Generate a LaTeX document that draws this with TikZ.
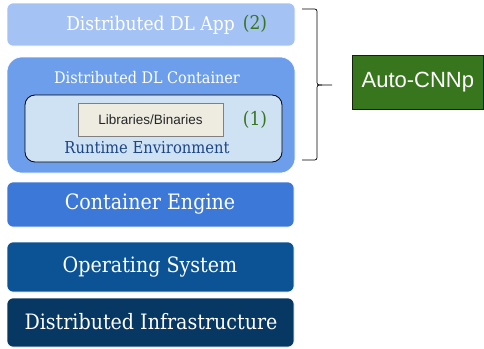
\documentclass[tikz,border=0pt]{standalone}
\usepackage{fontspec}
\setmainfont{DejaVu Serif Condensed}
\newfontfamily\arialf{Liberation Sans}
\definecolor{appc}{HTML}{A4C2F4}
\definecolor{contc}{HTML}{6D9EEB}
\definecolor{rtc}{HTML}{CFE2F3}
\definecolor{libc}{HTML}{EEECE1}
\definecolor{engc}{HTML}{3C78D8}
\definecolor{osc}{HTML}{0B5394}
\definecolor{infc}{HTML}{073763}
\definecolor{grn}{HTML}{38761D}
\definecolor{rttext}{HTML}{1C4587}
\begin{document}
\begin{tikzpicture}[x=1pt,y=-1pt,
  layer/.style={rounded corners=6pt, draw=white, line width=0.6pt},
  wtext/.style={text=white, font=\fontsize{21.2}{24}\selectfont, inner sep=0pt},
  num/.style={text=grn, font=\fontsize{19}{22}\selectfont, inner sep=0pt}]
\useasboundingbox (0,0) rectangle (484,348);
% layers
\path[layer, fill=appc] (7,3) rectangle (295,46);
\path[layer, fill=contc, rounded corners=15pt] (7,57) rectangle (295,173);
\path[draw=black, fill=rtc, rounded corners=10pt, line width=0.8pt] (25,95) rectangle (282,162);
\path[draw=gray, fill=libc, line width=0.6pt] (78,103) rectangle (223,136);
\path[layer, fill=engc] (7,182) rectangle (294,227);
\path[layer, fill=osc] (7,242) rectangle (294,292);
\path[layer, fill=infc] (7,298) rectangle (294,347);
% texts
\node[wtext, font=\fontsize{19}{22}\selectfont] (app) at (150.5,25) {Distributed DL App};
\node[num] (n2) at (255,24) {(2)};
\node[wtext, font=\fontsize{16}{19}\selectfont] (cont) at (147,78) {Distributed DL Container};
\node[inner sep=0pt, font=\arialf\fontsize{13.5}{16}\selectfont, text=black!85] (lib) at (150.5,119.5) {Libraries/Binaries};
\node[num] (n1) at (255,120) {(1)};
\node[inner sep=0pt, text=rttext, font=\fontsize{16.4}{19}\selectfont] (rt) at (147,148) {Runtime Environment};
\node[wtext] (eng) at (150,204) {Container Engine};
\node[wtext] (os) at (150,267) {Operating System};
\node[wtext] (inf) at (151,322) {Distributed Infrastructure};
% brace
\coordinate (bt) at (302,9);
\coordinate (bb) at (302,160);
\coordinate (bm) at (332,85);
\draw[line width=0.7pt] (bt) -- (312,9) .. controls (317,9) .. (317,14) -- (317,80) .. controls (317,85) .. (322,85) -- (bm);
\draw[line width=0.7pt] (bb) -- (312,160) .. controls (317,160) .. (317,155) -- (317,90) .. controls (317,85) .. (322,85);
% auto-cnnp
\node[draw=black!70!grn, fill=grn, minimum width=131pt, minimum height=54pt, anchor=north west, inner sep=0pt, text=white, font=\arialf\fontsize{22}{25}\selectfont, line width=0.7pt] (auto) at (352,55) {Auto-CNNp};
\end{tikzpicture}
\end{document}
